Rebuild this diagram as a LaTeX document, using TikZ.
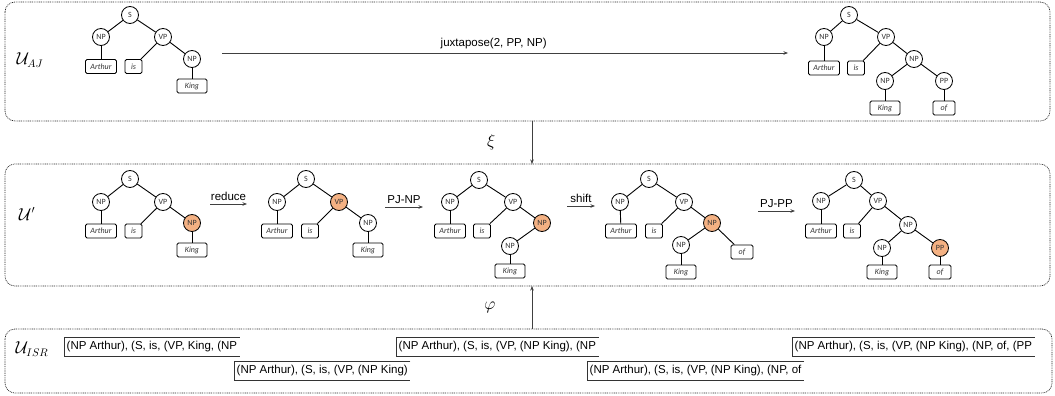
\documentclass[tikz,border=0pt]{standalone}
\usepackage{fontspec}
\setmainfont{Liberation Sans}
\newfontfamily\treefont{Carlito}
\usetikzlibrary{arrows.meta}
\definecolor{hl}{RGB}{244,177,131}
\tikzset{
  frame/.style={draw=black!85, dash pattern=on 0.9pt off 0.9pt, rounded corners=10pt, line width=0.7pt},
  cat/.style={circle, draw, line width=0.8pt, minimum size=17pt, inner sep=0pt, text=black!80, font=\treefont\fontsize{8}{9}\selectfont},
  hot/.style={cat, fill=hl},
  leaf/.style={draw, rounded corners=1.5pt, line width=0.8pt, minimum height=14pt, minimum width=17pt, inner sep=1pt, text=black!80, font=\treefont\itshape\fontsize{8}{9}\selectfont},
  op/.style={font=\fontsize{11.5}{13}\selectfont},
  isr/.style={inner xsep=2.5pt, inner ysep=0pt, minimum height=19pt, font=\fontsize{11.5}{13}\selectfont},
  arr/.style={-{Stealth[length=4.5pt,width=3.5pt]}, draw=black!75, line width=0.6pt},
  big/.style={font=\fontsize{16}{18}\selectfont},
}
\begin{document}
\begin{tikzpicture}[x=1pt,y=-1pt]
\useasboundingbox (0,0) rectangle (1055,396);
% frames
\draw[frame] (5,2) rectangle (1050,121);
\draw[frame] (5,164) rectangle (1050,286);
\draw[frame] (5,329) rectangle (1052,393);
\node[big] (uAJ) at (30,60) {$\mathcal{U}_{AJ}$};
\node[big] (uP) at (27,214) {$\mathcal{U}'$};
\node[big] (uISR) at (32,349) {$\mathcal{U}_{ISR}$};

% top left tree
\node[cat] (aS) at (130,15) {S};
\node[cat] (aNP) at (101,37) {NP};
\node[cat] (aVP) at (163,37) {VP};
\node[leaf, minimum width=31pt] (aArthur) at (101,66.5) {Arthur};
\node[leaf] (ais) at (133.5,66.5) {is};
\node[cat] (aNP2) at (192,59) {NP};
\node[leaf, minimum width=30pt] (aKing) at (192,86) {King};
\foreach \p/\c in {aS/aNP,aS/aVP,aNP/aArthur,aVP/ais,aVP/aNP2,aNP2/aKing}
  \draw[line width=0.9pt] (\p) -- (\c);

% top right tree
\node[cat] (bS) at (849,15) {S};
\node[cat] (bNP) at (824,37) {NP};
\node[cat] (bVP) at (886,37) {VP};
\node[leaf, minimum width=31pt] (bArthur) at (824,68) {Arthur};
\node[leaf] (bis) at (856,68) {is};
\node[cat] (bNP2) at (914,59) {NP};
\node[cat] (bNP3) at (885,81) {NP};
\node[cat] (bPP) at (944,81) {PP};
\node[leaf, minimum width=30pt] (bKing) at (885,108) {King};
\node[leaf, minimum width=22pt] (bof) at (944,108) {of};
\foreach \p/\c in {bS/bNP,bS/bVP,bNP/bArthur,bVP/bis,bVP/bNP2,bNP2/bNP3,bNP2/bPP,bNP3/bKing,bPP/bof}
  \draw[line width=0.9pt] (\p) -- (\c);

\coordinate (j1) at (222,53);
\coordinate (j2) at (788,53);
\draw[arr] (j1) -- node[op, above=0pt, pos=0.48] {juxtapose(2, PP, NP)} (j2);

% xi and phi
\coordinate (xiA) at (532,121);
\coordinate (xiB) at (532,164);
\draw[arr] (xiA) -- node[big, left=33pt] {$\xi$} (xiB);
\coordinate (phA) at (532,329);
\coordinate (phB) at (532,286);
\draw[arr] (phA) -- node[big, left=33pt] {$\varphi$} (phB);

% middle trees
\node[cat] (cS) at (130,179) {S};
\node[cat] (cNP) at (101,202) {NP};
\node[cat] (cVP) at (163,202) {VP};
\node[leaf, minimum width=31pt] (cArthur) at (101,231) {Arthur};
\node[leaf] (cis) at (133.5,231) {is};
\node[hot] (cNP2) at (192,223) {NP};
\node[leaf, minimum width=30pt] (cKing) at (192,250) {King};
\foreach \p/\c in {cS/cNP,cS/cVP,cNP/cArthur,cVP/cis,cVP/cNP2,cNP2/cKing}
  \draw[line width=0.9pt] (\p) -- (\c);

\node[cat] (dS) at (306,179) {S};
\node[cat] (dNP) at (277,202) {NP};
\node[hot] (dVP) at (339,202) {VP};
\node[leaf, minimum width=31pt] (dArthur) at (277,231) {Arthur};
\node[leaf] (dis) at (310,231) {is};
\node[cat] (dNP2) at (368,223) {NP};
\node[leaf, minimum width=30pt] (dKing) at (368,250) {King};
\foreach \p/\c in {dS/dNP,dS/dVP,dNP/dArthur,dVP/dis,dVP/dNP2,dNP2/dKing}
  \draw[line width=0.9pt] (\p) -- (\c);

\node[cat] (eS) at (479,180) {S};
\node[cat] (eNP) at (450,202) {NP};
\node[cat] (eVP) at (513,202) {VP};
\node[leaf, minimum width=31pt] (eArthur) at (450,231) {Arthur};
\node[leaf] (eis) at (482,231) {is};
\node[hot] (eNP2) at (542,223) {NP};
\node[cat] (eNP3) at (510,246) {NP};
\node[leaf, minimum width=30pt] (eKing) at (510,271) {King};
\foreach \p/\c in {eS/eNP,eS/eVP,eNP/eArthur,eVP/eis,eVP/eNP2,eNP2/eNP3,eNP3/eKing}
  \draw[line width=0.9pt] (\p) -- (\c);

\node[cat] (fS) at (649,179) {S};
\node[cat] (fNP) at (620,202) {NP};
\node[cat] (fVP) at (684,202) {VP};
\node[leaf, minimum width=31pt] (fArthur) at (621,231) {Arthur};
\node[leaf] (fis) at (654,231) {is};
\node[hot] (fNP2) at (712,223) {NP};
\node[cat] (fNP3) at (681,245) {NP};
\node[leaf, minimum width=22pt] (fof) at (742,252) {of};
\node[leaf, minimum width=30pt] (fKing) at (681,272) {King};
\foreach \p/\c in {fS/fNP,fS/fVP,fNP/fArthur,fVP/fis,fVP/fNP2,fNP2/fNP3,fNP2/fof,fNP3/fKing}
  \draw[line width=0.9pt] (\p) -- (\c);

\node[cat] (gS) at (854,180) {S};
\node[cat] (gNP) at (821,201) {NP};
\node[cat] (gVP) at (878,201) {VP};
\node[leaf, minimum width=31pt] (gArthur) at (821,231) {Arthur};
\node[leaf] (gis) at (852,231) {is};
\node[cat] (gNP2) at (908,225) {NP};
\node[cat] (gNP3) at (882,248) {NP};
\node[hot] (gPP) at (940,248) {PP};
\node[leaf, minimum width=30pt] (gKing) at (882,272) {King};
\node[leaf, minimum width=22pt] (gof) at (940,272) {of};
\foreach \p/\c in {gS/gNP,gS/gVP,gNP/gArthur,gVP/gis,gVP/gNP2,gNP2/gNP3,gNP2/gPP,gNP3/gKing,gPP/gof}
  \draw[line width=0.9pt] (\p) -- (\c);

% actions
\coordinate (m1a) at (210,204); \coordinate (m1b) at (247,204);
\draw[arr] (m1a) -- node[op, above=0pt] {reduce} (m1b);
\coordinate (m2a) at (385,207); \coordinate (m2b) at (423,207);
\draw[arr] (m2a) -- node[op, above=0pt] {PJ-NP} (m2b);
\coordinate (m3a) at (567,206); \coordinate (m3b) at (595,206);
\draw[arr] (m3a) -- node[op, above=0pt] {shift} (m3b);
\coordinate (m4a) at (758,211); \coordinate (m4b) at (795,211);
\draw[arr] (m4a) -- node[op, above=0pt] {PJ-PP} (m4b);

% linearised states
\node[isr, anchor=west] (r1) at (64,347) {(NP Arthur), (S, is, (VP, King, (NP};
\node[isr, anchor=west] (r2) at (234,371) {(NP Arthur), (S, is, (VP, (NP King)};
\node[isr, anchor=west] (r3) at (396,347) {(NP Arthur), (S, is, (VP, (NP King), (NP};
\node[isr, anchor=west] (r4) at (587,371) {(NP Arthur), (S, is, (VP, (NP King), (NP, of};
\node[isr, anchor=west] (r5) at (792,347) {(NP Arthur), (S, is, (VP, (NP King), (NP, of, (PP};
\foreach \r in {r1,r2,r3,r4,r5}
  \draw[line width=0.7pt, black!80] (\r.north east) -- (\r.north west) -- (\r.south west) -- (\r.south east);
\end{tikzpicture}
\end{document}
